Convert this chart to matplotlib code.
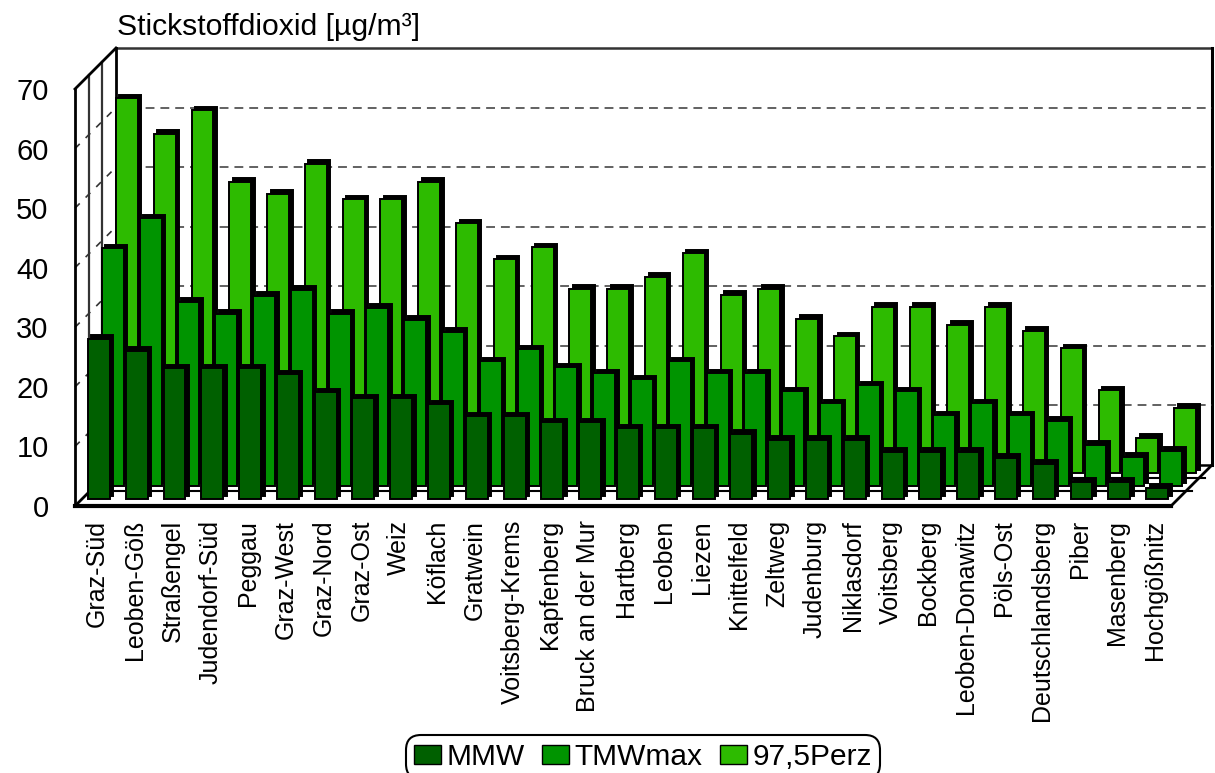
import matplotlib
matplotlib.use('Agg')
import matplotlib.pyplot as plt
from matplotlib.patches import Patch
from matplotlib.transforms import Affine2D, IdentityTransform

plt.rcParams['font.family'] = ['Liberation Sans', 'DejaVu Sans']

stations = ['Graz-Süd', 'Leoben-Göß', 'Straßengel', 'Judendorf-Süd', 'Peggau', 'Graz-West',
            'Graz-Nord', 'Graz-Ost', 'Weiz', 'Köflach', 'Gratwein', 'Voitsberg-Krems',
            'Kapfenberg', 'Bruck an der Mur', 'Hartberg', 'Leoben', 'Liezen', 'Knittelfeld',
            'Zeltweg', 'Judenburg', 'Niklasdorf', 'Voitsberg', 'Bockberg', 'Leoben-Donawitz',
            'Pöls-Ost', 'Deutschlandsberg', 'Piber', 'Masenberg', 'Hochgößnitz']
mmw = [27, 25, 22, 22, 22, 21, 18, 17, 17, 16, 14, 14, 13, 13, 12, 12, 12, 11, 10, 10, 10,
       8, 8, 8, 7, 6, 3, 3, 2]
tmwmax = [40, 45, 31, 29, 32, 33, 29, 30, 28, 26, 21, 23, 20, 19, 18, 21, 19, 19, 16, 14, 17,
          16, 12, 14, 12, 11, 7, 5, 6]
perz = [63, 57, 61, 49, 47, 52, 46, 46, 49, 42, 36, 38, 31, 31, 33, 37, 30, 31, 26, 23, 28,
        28, 25, 28, 24, 21, 14, 6, 11]
yticks = [0, 10, 20, 30, 40, 50, 60, 70]

W, H = 1215, 773
fig = plt.figure(figsize=(W / 100, H / 100), dpi=100)
ax = fig.add_axes([75 / W, 1 - 506 / H, 1096 / W, 417 / H])
ax.set_xlim(-0.5, 28.5)
ax.set_ylim(0, 70)


def shifted(dx, dy):
    # pixel shift on screen, y upwards
    return ax.transData + Affine2D().translate(dx, dy)


def slant(x0, val, **kw):
    # line going from the front plane to the back wall
    p = ax.transData.transform((x0, val))
    ax.plot([p[0], p[0] + depth], [p[1], p[1] + depth], transform=IdentityTransform(),
            clip_on=False, zorder=1, **kw)


depth = 41
# back wall, side wall, floor
ax.plot([-0.5, 28.5], [70, 70], color='#333333', lw=1.8, transform=shifted(depth, depth), clip_on=False, zorder=1)
ax.plot([28.5, 28.5], [70, 0], color='black', lw=2.2, transform=shifted(depth, depth), clip_on=False, zorder=1)
ax.plot([-0.5, -0.5], [0, 70], color='black', lw=2, transform=shifted(depth, depth), clip_on=False, zorder=1)
for t in yticks[1:-1]:
    ax.plot([-0.5, 28.5], [t, t], color='#555555', lw=1.3, dashes=(4.9, 3.3), transform=shifted(depth, depth), zorder=1, clip_on=False)
    slant(-0.5, t, color='#333333', lw=1.2, dashes=(4, 5))
for d in (14, 27):
    ax.plot([-0.5, -0.5], [0, 70], color='#333333', lw=1.6, transform=shifted(d, d), clip_on=False, zorder=1)
slant(-0.5, 0, color='black', lw=2)
slant(-0.5, 70, color='black', lw=2)
slant(28.5, 0, color='black', lw=2)
ax.plot([-0.5, 28.5], [0, 0], color='black', lw=1.8, transform=shifted(depth, depth), clip_on=False, zorder=1)

# the three rows of bars, back row first
x = list(range(len(stations)))
rows = [(perz, '#2DBB00', 33, 32.5, 28), (tmwmax, '#009400', 19, 19.5, 15), (mmw, '#006000', 5, 6.5, None)]
z = 3
for vals, col, dx, dy, strip in rows:
    # floor strip under the row
    if strip is not None:
        ax.plot([-0.5, 28.5], [0, 0], color='black', lw=1.5, transform=shifted(strip + 6, strip), clip_on=False, zorder=z - 1)
    ax.bar(x, vals, width=0.58, color='black', edgecolor='black', lw=1.4, transform=shifted(dx + 3.5, dy + 3.5), clip_on=False, zorder=z)
    ax.bar(x, vals, width=0.58, color=col, edgecolor='black', lw=1.4, transform=shifted(dx, dy), clip_on=False, zorder=z + 1)
    z += 2

for s in ('top', 'right'):
    ax.spines[s].set_visible(False)
ax.spines['left'].set_linewidth(2)
ax.spines['bottom'].set_linewidth(3)
ax.set_yticks(yticks)
ax.set_xticks(x)
ax.set_xticklabels(stations, rotation=90, fontsize=18)
ax.tick_params(axis='x', length=0, pad=10)
ax.tick_params(axis='y', length=0, pad=19, labelsize=21)
for lab in ax.get_xticklabels():
    lab.set_transform(lab.get_transform() + Affine2D().translate(3, 0))

fig.text(117 / W, 1 - 27 / H, 'Stickstoffdioxid [µg/m³]', fontsize=21.7, va='center', ha='left')

handles = [Patch(facecolor='#006000', edgecolor='black', label='MMW'),
           Patch(facecolor='#009400', edgecolor='black', label='TMWmax'),
           Patch(facecolor='#2DBB00', edgecolor='black', label='97,5Perz')]
leg = fig.legend(handles=handles, ncol=3, loc='center', bbox_to_anchor=(643 / W, 1 - 757 / H),
                 fontsize=21.5, frameon=True, fancybox=True, edgecolor='black', framealpha=1,
                 handlelength=0.9, handleheight=0.6, handletextpad=0.17, columnspacing=0.6, borderpad=0.27)
leg.get_frame().set_linewidth(1.5)
leg.get_frame().set_boxstyle('round', pad=0, rounding_size=0.5)

fig.savefig('out.png', dpi=100)
